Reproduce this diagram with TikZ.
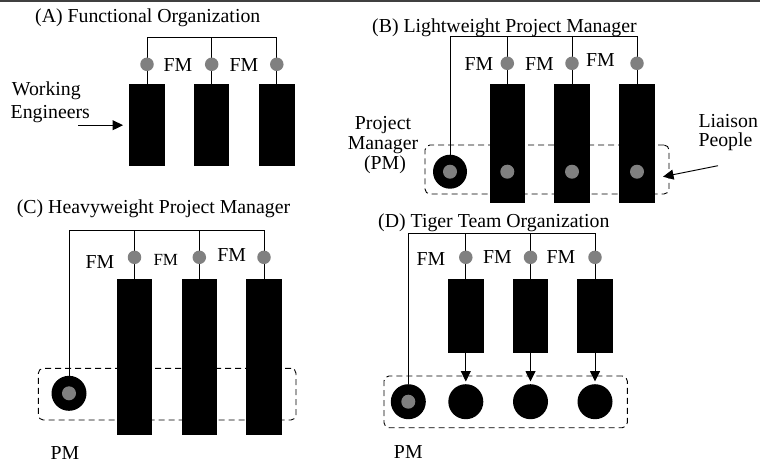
\documentclass[tikz,border=0pt]{standalone}
\usepackage{fontspec}
\setmainfont{Liberation Serif}
\usetikzlibrary{arrows.meta}
\begin{document}
\begin{tikzpicture}[x=1pt,y=-1pt,
  txt/.style={font=\fontsize{19.8}{23}\selectfont, inner sep=0pt},
  smalltxt/.style={font=\fontsize{17}{20}\selectfont, inner sep=0pt},
  team/.style={rectangle, fill=black, draw=none, inner sep=0pt, minimum width=35.5pt},
  fmdot/.style={circle, fill=gray, inner sep=0pt, minimum size=13.5pt},
  pmring/.style={circle, fill=black, inner sep=0pt, minimum size=35pt},
  member/.style={circle, fill=black, inner sep=0pt, minimum size=35pt},
  link/.style={draw=black, line width=0.9pt},
  group/.style={draw=black, dash pattern=on 6pt off 4pt, line width=0.9pt, rounded corners=5pt, inner sep=0pt},
  arr/.style={line width=0.9pt, -{Triangle[length=10.5pt,width=10pt]}},
]
\useasboundingbox (0,0) rectangle (760,472);

% rule along the top edge
\coordinate (ruleL) at (0,1.2);
\coordinate (ruleR) at (760,1.2);
\draw[line width=2.4pt, black!75] (ruleL) -- (ruleR);

% ---------------- (A) Functional Organization ----------------
\node[txt, anchor=base west] (titleA) at (35,22.7) {(A) Functional Organization};
\coordinate (busA) at (0,37.7);
\node[team, minimum height=81.7pt] (a1) at (147,125.15) {};
\node[team, minimum height=81.7pt] (a2) at (211.7,125.15) {};
\node[team, minimum height=81.7pt] (a3) at (276.8,125.15) {};
\draw[link] (a1.north) -- (a1.north |- busA) -| (a3.north);
\draw[link] (a2.north) -- (a2.north |- busA);
\node[fmdot] (fa1) at (a1.north |- 0,64.3) {};
\node[fmdot] (fa2) at (a2.north |- 0,64.3) {};
\node[fmdot] (fa3) at (a3.north |- 0,64.3) {};
\node[txt] (fmA1) at (178,65) {FM};
\node[txt] (fmA2) at (244,65) {FM};
\node[txt, anchor=base west] (weA) at (11.7,95) {Working};
\node[txt, anchor=base west] (weB) at (10.5,118.5) {Engineers};
\coordinate (weTail) at (78,125.2);
\draw[arr, shorten >=6pt] (weTail) -- (a1.west |- weTail);

% ---------------- (B) Lightweight Project Manager ----------------
\node[group, minimum width=244pt, minimum height=49pt] (grpB) at (547,169.5) {};
\node[txt, anchor=base west] (titleB) at (372,32.3) {(B) Lightweight Project Manager};
\coordinate (busB) at (0,36);
\node[team, minimum height=118.7pt] (b1) at (507.3,143.65) {};
\node[team, minimum height=118.7pt] (b2) at (572,143.65) {};
\node[team, minimum height=118.7pt] (b3) at (637,143.65) {};
\node[pmring, minimum size=34pt] (pmB) at (450,171.7) {};
\draw[link] (pmB.north) |- (b3.north |- busB) -- (b3.north);
\draw[link] (b1.north) -- (b1.north |- busB);
\draw[link] (b2.north) -- (b2.north |- busB);
\node[fmdot] (fb1) at (b1.north |- 0,63.3) {};
\node[fmdot] (fb2) at (b2.north |- 0,63.3) {};
\node[fmdot] (fb3) at (b3.north |- 0,63.3) {};
\node[fmdot, minimum size=14pt] (lpB) at (pmB) {};
\node[fmdot, minimum size=14pt] (lb1) at (b1 |- pmB) {};
\node[fmdot, minimum size=14pt] (lb2) at (b2 |- pmB) {};
\node[fmdot, minimum size=14pt] (lb3) at (b3 |- pmB) {};
\node[txt] (fmB1) at (479,63.7) {FM};
\node[txt] (fmB2) at (539.5,63.7) {FM};
\node[txt] (fmB3) at (600.5,60.5) {FM};
\node[txt, anchor=base] (pmB1) at (383,129) {Project};
\node[txt, anchor=base] (pmB2) at (383,149) {Manager};
\node[txt, anchor=base] (pmB3) at (385,169) {(PM)};
\node[txt, anchor=base west] (liB1) at (698.3,127) {Liaison};
\node[txt, anchor=base west] (liB2) at (698.3,146) {People};
\coordinate (liTail) at (718,165.7);
\coordinate (liTip) at (663,176.7);
\draw[arr] (liTail) -- (liTip);

% ---------------- (C) Heavyweight Project Manager ----------------
\node[group, minimum width=257.7pt, minimum height=51.7pt] (grpC) at (167.15,394.15) {};
\node[txt, anchor=base west] (titleC) at (16.7,213.3) {(C) Heavyweight Project Manager};
\coordinate (busC) at (0,230);
\node[team, minimum height=156pt] (c1) at (134.5,357) {};
\node[team, minimum height=156pt] (c2) at (199.3,357) {};
\node[team, minimum height=156pt] (c3) at (264,357) {};
\node[pmring] (pmC) at (69,393.3) {};
\draw[link] (pmC.north) |- (c3.north |- busC) -- (c3.north);
\draw[link] (c1.north) -- (c1.north |- busC);
\draw[link] (c2.north) -- (c2.north |- busC);
\node[fmdot] (fc1) at (c1.north |- 0,257.3) {};
\node[fmdot] (fc2) at (c2.north |- 0,257.3) {};
\node[fmdot] (fc3) at (c3.north |- 0,257.3) {};
\node[fmdot, minimum size=14pt] (lpC) at (pmC) {};
\node[txt] (fmC1) at (100,261.7) {FM};
\node[smalltxt] (fmC2) at (165.8,260) {FM};
\node[txt] (fmC3) at (231.7,255) {FM};
\node[txt] (pmCl) at (65,453) {PM};

% ---------------- (D) Tiger Team Organization ----------------
\node[group, minimum width=243.3pt, minimum height=51.7pt] (grpD) at (505.65,401.85) {};
\node[txt, anchor=base west] (titleD) at (378,227.7) {(D) Tiger Team Organization};
\coordinate (busD) at (0,233.3);
\node[team, minimum height=73.7pt] (d1) at (465.8,315.85) {};
\node[team, minimum height=73.7pt] (d2) at (530.5,315.85) {};
\node[team, minimum height=73.7pt] (d3) at (595,315.85) {};
\node[pmring] (pmD) at (408.3,401.7) {};
\node[member] (m1) at (d1 |- pmD) {};
\node[member] (m2) at (d2 |- pmD) {};
\node[member] (m3) at (d3 |- pmD) {};
\draw[link] (pmD.north) |- (d3.north |- busD) -- (d3.north);
\draw[link] (d1.north) -- (d1.north |- busD);
\draw[link] (d2.north) -- (d2.north |- busD);
\draw[arr, shorten >=2.5pt] (d1.south) -- (m1.north);
\draw[arr, shorten >=2.5pt] (d2.south) -- (m2.north);
\draw[arr, shorten >=2.5pt] (d3.south) -- (m3.north);
\node[fmdot] (fd1) at (d1.north |- 0,257.3) {};
\node[fmdot] (fd2) at (d2.north |- 0,257.3) {};
\node[fmdot] (fd3) at (d3.north |- 0,257.3) {};
\node[fmdot, minimum size=14pt] (lpD) at (pmD) {};
\node[txt] (fmD1) at (431,259.3) {FM};
\node[txt] (fmD2) at (497.5,257) {FM};
\node[txt] (fmD3) at (561,257) {FM};
\node[txt] (pmDl) at (408.3,451.7) {PM};
\end{tikzpicture}
\end{document}
